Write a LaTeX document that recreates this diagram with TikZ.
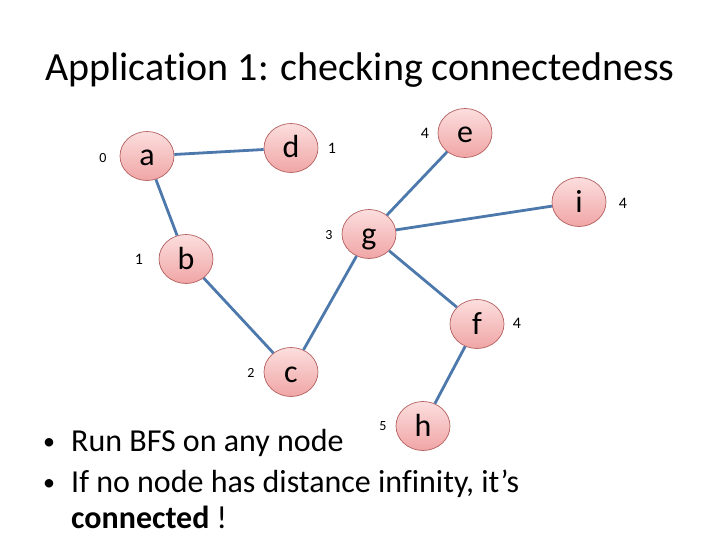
\documentclass[tikz,border=0pt]{standalone}
\usepackage{fontspec}
\setmainfont{Carlito}[Ligatures=NoCommon]
\usetikzlibrary{shapes.geometric}
\definecolor{edgeblue}{RGB}{76,120,172}
\definecolor{pinktop}{RGB}{252,222,222}
\definecolor{pinkbot}{RGB}{240,165,165}
\definecolor{pinkdraw}{RGB}{180,95,95}
\tikzset{
  vertex/.style={ellipse, draw=pinkdraw, line width=0.7pt, top color=pinktop, bottom color=pinkbot,
    minimum width=54pt, minimum height=49pt, inner sep=0pt, text height=20pt, text depth=0pt,
    font=\fontsize{32}{38}\selectfont},
  dist/.style={font=\fontsize{16}{18}\selectfont, inner sep=0pt},
  distsm/.style={font=\fontsize{14}{16}\selectfont, inner sep=0pt},
  link/.style={draw=edgeblue, line width=2.8pt},
  bodytext/.style={anchor=base west, inner sep=0pt, font=\fontsize{32}{38}\selectfont},
  bullet/.style={anchor=base, inner sep=0pt, font=\fontsize{24}{28}\selectfont},
}
\begin{document}
\begin{tikzpicture}[x=1pt,y=-1pt]
\useasboundingbox (0,0) rectangle (720,540);
\node[anchor=base, inner sep=0pt, font=\fontsize{40}{48}\selectfont] (title) at (360,81) {Application 1: checking connectedness};

\node[vertex] (a) at (147,156) {a};
\node[vertex] (d) at (291,148) {d};
\node[vertex] (b) at (186,259) {b};
\node[vertex] (c) at (291,372) {c};
\node[vertex] (g) at (369,234) {g};
\node[vertex] (e) at (465,133) {e};
\node[vertex] (i) at (579,202) {i};
\node[vertex] (f) at (477,324) {f};
\node[vertex] (h) at (423,426) {h};

\draw[link] (a) -- (d);
\draw[link] (a) -- (b);
\draw[link] (b) -- (c);
\draw[link] (c) -- (g);
\draw[link] (g) -- (e);
\draw[link] (g) -- (i);
\draw[link] (g) -- (f);
\draw[link] (f) -- (h);

\node[distsm] (la) at (103,158) {0};
\node[dist] (lb) at (139,259) {1};
\node[dist] (ld) at (332,148) {1};
\node[distsm] (lg) at (329,235) {3};
\node[dist] (le) at (425,133) {4};
\node[dist] (li) at (623,203) {4};
\node[dist] (lf) at (517,323) {4};
\node[distsm] (lc) at (251,373) {2};
\node[distsm] (lh) at (383,426) {5};

\node[bullet] (b1) at (49,449) {•};
\node[bodytext] (t1) at (71,451) {Run BFS on any node};
\node[bullet] (b2) at (49,490) {•};
\node[bodytext] (t2) at (71,492) {If no node has distance infinity, it’s};
\node[bodytext] (t3) at (71,528) {\textbf{connected} !};
\end{tikzpicture}
\end{document}
